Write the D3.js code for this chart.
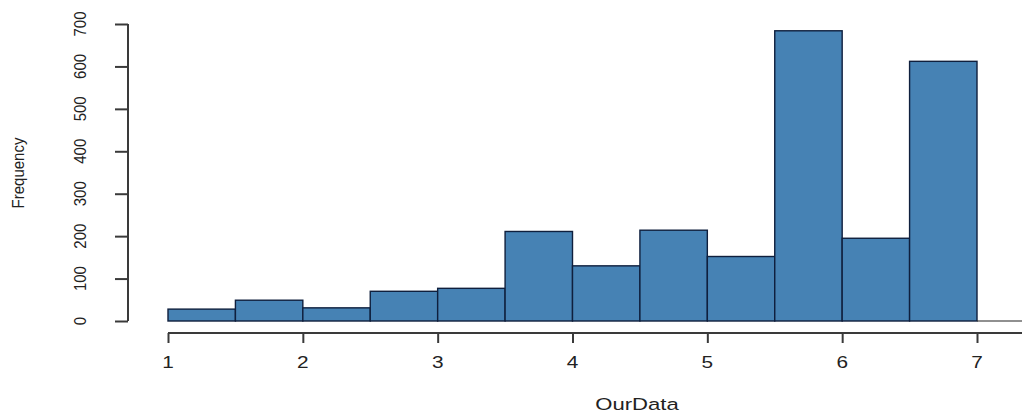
<!DOCTYPE html>
<html>
<head>
<meta charset="utf-8">
<script src="https://cdn.jsdelivr.net/npm/d3@7"></script>
<style>
  html, body { margin: 0; padding: 0; background: #fff; }
  svg { display: block; }
  text { font-family: "Liberation Sans", Arial, sans-serif; fill: #222; }
</style>
</head>
<body>
<svg id="chart" width="1022" height="416"></svg>
<script>
// Histogram of OurData: bin edges and counts per bin
const binStarts = [1, 1.5, 2, 2.5, 3, 3.5, 4, 4.5, 5, 5.5, 6, 6.5];
const binWidth = 0.5;
const counts = [28, 49, 31, 70, 77, 211, 130, 214, 152, 684, 195, 612];

const xTicks = [1, 2, 3, 4, 5, 6, 7];
const yTicks = [0, 100, 200, 300, 400, 500, 600, 700];

const xLabel = "OurData";
const yLabel = "Frequency";

const W = 1022, H = 416;
const svg = d3.select("#chart");

const x = d3.scaleLinear().domain([1, 7]).range([168, 977]);
const y = d3.scaleLinear().domain([0, 700]).range([321, 24]);

const stretch = 1.3;      // wide glyphs for horizontal text
const axisColor = "#3a3a3a";

// bars
svg.append("g")
  .selectAll("rect")
  .data(binStarts.map((s, i) => ({ s, c: counts[i] })))
  .join("rect")
  .attr("x", d => x(d.s))
  .attr("y", d => y(d.c))
  .attr("width", d => x(d.s + binWidth) - x(d.s))
  .attr("height", d => y(0) - y(d.c))
  .attr("fill", "#4682B4")
  .attr("stroke", "#0f1f3d")
  .attr("stroke-width", 1.4);

// baseline continuing past the last bin
svg.append("line")
  .attr("x1", x(7)).attr("x2", W)
  .attr("y1", y(0)).attr("y2", y(0))
  .attr("stroke", "#222").attr("stroke-width", 1.2);

// x axis
const xAxisY = 333;
const gx = svg.append("g").attr("transform", `translate(0,${xAxisY})`);
gx.call(d3.axisBottom(x).tickValues(xTicks).tickSize(10).tickFormat(""));
gx.select(".domain").remove();
gx.selectAll(".tick line").attr("stroke", axisColor).attr("stroke-width", 2);
gx.append("line")
  .attr("x1", x(1)).attr("x2", W)
  .attr("stroke", axisColor).attr("stroke-width", 2);

svg.append("g")
  .selectAll("g")
  .data(xTicks)
  .join("g")
  .attr("transform", d => `translate(${x(d)},${xAxisY + 35}) scale(${stretch},1)`)
  .append("text")
  .attr("text-anchor", "middle")
  .attr("font-size", 16)
  .text(d => d);

// y axis
const yAxisX = 128;
const gy = svg.append("g").attr("transform", `translate(${yAxisX},0)`);
gy.call(d3.axisLeft(y).tickValues(yTicks).tickSize(13).tickFormat(""));
gy.select(".domain").remove();
gy.selectAll(".tick line").attr("stroke", axisColor).attr("stroke-width", 2);
gy.append("line")
  .attr("y1", y(0)).attr("y2", y(700))
  .attr("stroke", axisColor).attr("stroke-width", 2);

svg.append("g")
  .selectAll("g")
  .data(yTicks)
  .join("g")
  .attr("transform", d => `translate(86,${y(d)}) scale(1.15,1) rotate(-90)`)
  .append("text")
  .attr("text-anchor", "middle")
  .attr("font-size", 15)
  .text(d => d);

// axis titles
svg.append("g")
  .attr("transform", `translate(637,410) scale(${stretch},1)`)
  .append("text")
  .attr("text-anchor", "middle")
  .attr("font-size", 17)
  .text(xLabel);

svg.append("g")
  .attr("transform", `translate(24,173) scale(1.15,1) rotate(-90)`)
  .append("text")
  .attr("text-anchor", "middle")
  .attr("font-size", 15)
  .text(yLabel);
</script>
</body>
</html>
